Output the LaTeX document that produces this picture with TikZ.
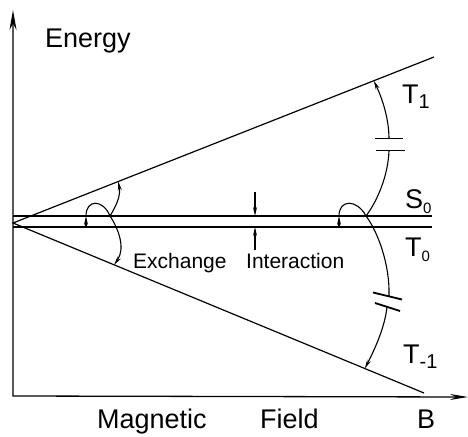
\documentclass[tikz,border=0pt]{standalone}
\usepackage{fontspec}
\setmainfont{Liberation Sans}
\usetikzlibrary{arrows.meta,calc}

\newcommand{\lvlsub}[2][20]{\raisebox{-5pt}{\fontsize{#1}{#1}\selectfont #2}}

\begin{document}
\begin{tikzpicture}[x=1pt, y=-1pt,
    level/.style={line width=1.2pt},
    curve/.style={line width=1.1pt},
    trans/.style={curve, -{Stealth[length=9pt, width=4pt]}},
    cut/.style={line width=1.8pt},
    big/.style={inner sep=0pt, anchor=base west, font=\fontsize{27}{27}\selectfont},
    small/.style={inner sep=0pt, anchor=base west, font=\fontsize{21}{21}\selectfont}]
    \useasboundingbox (0,0) rectangle (468,436);

    % axes
    \coordinate (etop) at (13,10);
    \coordinate (orig) at (13,396);
    \coordinate (bend) at (468,397);
    \draw[line width=1.3pt, {Stealth[length=20pt, width=7pt]}-{Stealth[length=18pt, width=6pt]}]
        (etop) -- (orig) -- (bend);

    % levels
    \coordinate (apex) at (13,223);
    \coordinate (t1end) at (434,57);
    \coordinate (tm1end) at (424,393);
    \coordinate (s0l) at (13,216);
    \coordinate (s0r) at (432,216);
    \coordinate (t0l) at (13,227);
    \coordinate (t0r) at (432,227);
    \draw[level] (t1end) -- (apex) -- (tm1end);
    \draw[level] (s0l) -- (s0r);
    \draw[level] (t0l) -- (t0r);

    % transitions, left
    \coordinate (al) at (86,227);
    \coordinate (bl) at (86,216);
    \coordinate (xl) at (110,216);
    \coordinate (ul) at ($(apex)!0.25!(t1end)$);
    \coordinate (dl) at ($(apex)!0.246!(tm1end)$);
    \draw[trans] (al) -- (bl);
    \draw[trans] (bl) .. controls (86,199) and (103,199) .. (xl)
        .. controls (118,228) and (126,248) .. (dl);
    \draw[trans] (xl) .. controls (116,206) and (121,196) .. (ul);

    % transitions, right
    \coordinate (ar) at (339,227);
    \coordinate (br) at (339,216);
    \coordinate (xr) at (366,216);
    \coordinate (ur) at ($(apex)!0.857!(t1end)$);
    \coordinate (dr) at ($(apex)!0.856!(tm1end)$);
    \draw[trans] (ar) -- (br);
    \draw[curve] (br) .. controls (339,199) and (357,199) .. (xr)
        .. controls (378,232) and (390,265) .. (389,296);
    \draw[trans] (387,307) .. controls (385,325) and (377,345) .. (dr);
    \draw[curve] (xr) .. controls (378,200) and (388,175) .. (389,151);
    \draw[trans] (389,139) .. controls (389,120) and (383,100) .. (ur);

    % breaks
    \draw[cut] (375,138.5) -- (403,138.5);
    \draw[cut] (376,150.5) -- (405,150.5);
    \draw[cut] (373,292.5) -- (402,299.5);
    \draw[cut] (375,303) -- (400,311);

    % interaction
    \coordinate (ia) at (255,192);
    \coordinate (ib) at (255,216);
    \coordinate (ic) at (255,250);
    \coordinate (id) at (255,227);
    \draw[trans] (ia) -- (ib);
    \draw[trans] (ic) -- (id);

    % labels
    \node[big] (energy) at (45,48) {Energy};
    \node[big] (t1) at (402,103) {T\lvlsub{1}};
    \node[big] (s0) at (405,208) {S\lvlsub[15]{0}};
    \node[big] (t0) at (405,256) {T\lvlsub[15]{0}};
    \node[big] (tm1) at (403,363) {T\lvlsub{-1}};
    \node[small] (exch) at (133,268) {Exchange};
    \node[small] (inter) at (246,268) {Interaction};
    \node[big] (magn) at (97,428) {Magnetic};
    \node[big] (field) at (260,428) {Field};
    \node[big] (bfield) at (417,428) {B};
\end{tikzpicture}
\end{document}
